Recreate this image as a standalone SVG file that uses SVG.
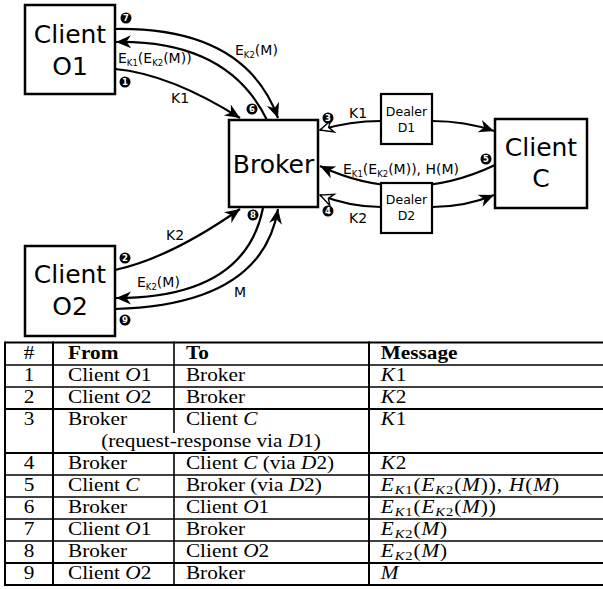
<svg xmlns="http://www.w3.org/2000/svg" width="603" height="589" viewBox="0 0 603 589">
<style>
.box{fill:#fff;stroke:#000;stroke-width:2.5}
.dbox{fill:#fff;stroke:#000;stroke-width:2.2}
.big{font-family:"DejaVu Sans",sans-serif;font-size:25px;text-anchor:middle;fill:#000}
.small{font-family:"DejaVu Sans",sans-serif;font-size:12.5px;text-anchor:middle;fill:#000}
.lbl{font-family:"DejaVu Sans",sans-serif;font-size:14px;fill:#000}
.sub{font-size:8.5px}
.edge{fill:none;stroke:#000;stroke-width:2.2}
.badge circle{fill:#000}
.badge text{font-family:"DejaVu Sans",sans-serif;font-size:8.5px;font-weight:bold;fill:#fff;text-anchor:middle}
.tl{stroke:#000;stroke-width:1.6}
.tt{font-family:"Liberation Serif",serif;font-size:19px;fill:#000}
.th{font-weight:bold}
.it{font-style:italic}
.mt{letter-spacing:0.8px}
.ms{font-size:13px}
</style>
<defs>
<marker id="ah" markerUnits="userSpaceOnUse" viewBox="-16 -8 17 16" refX="0" refY="0" markerWidth="17" markerHeight="16" orient="auto">
<path d="M0,0 L-15,-6.5 L-10.5,0 L-15,6.5 Z" fill="#000"/>
</marker>
<marker id="ao" markerUnits="userSpaceOnUse" viewBox="-16 -8 17 16" refX="0" refY="0" markerWidth="17" markerHeight="16" orient="auto">
<path d="M0,0 L-13,-6 L-9,0 L-13,6 Z" fill="#fff" stroke="#000" stroke-width="1.4" stroke-linejoin="miter"/>
</marker>
</defs>

<g id="connectors">
<path class="edge" d="M115,69 Q170,74 240,118" marker-end="url(#ah)"/>
<path class="edge" d="M115,29 Q245,27 278,118" marker-end="url(#ah)"/>
<path class="edge" d="M267,120 Q228,40 116,42" marker-end="url(#ah)"/>
<path class="edge" d="M115,270 Q170,258 240,209" marker-end="url(#ah)"/>
<path class="edge" d="M263,208 Q245,298 116,298" marker-end="url(#ah)"/>
<path class="edge" d="M115,309 Q262,305 278,209" marker-end="url(#ah)"/>
<path class="edge" d="M381,121 Q350,121 320,130" marker-end="url(#ao)"/>
<path class="edge" d="M432,121 Q465,121 494,131" marker-end="url(#ah)"/>
<path class="edge" d="M495,165 Q407,207 320,166" marker-end="url(#ah)"/>
<path class="edge" d="M381,207 Q350,207 320,195" marker-end="url(#ao)"/>
<path class="edge" d="M432,207 Q465,207 494,195" marker-end="url(#ah)"/>
</g>

<g id="client-o1"><rect class="box" x="25" y="5" width="90" height="89"/><text class="big" x="70" y="43">Client</text><text class="big" x="70" y="75">O1</text></g>
<g id="broker"><rect class="box" x="229" y="120" width="89" height="87"/><text class="big" x="273.5" y="173">Broker</text></g>
<g id="client-c"><rect class="box" x="495" y="119" width="92" height="89"/><text class="big" x="541" y="156">Client</text><text class="big" x="541" y="187">C</text></g>
<g id="client-o2"><rect class="box" x="25" y="246" width="90" height="90"/><text class="big" x="70" y="283">Client</text><text class="big" x="70" y="315">O2</text></g>
<g id="dealer-d1"><rect class="dbox" x="381" y="94" width="51" height="50"/><text class="small" x="406.5" y="116">Dealer</text><text class="small" x="406.5" y="132">D1</text></g>
<g id="dealer-d2"><rect class="dbox" x="381" y="183" width="51" height="50"/><text class="small" x="406.5" y="204">Dealer</text><text class="small" x="406.5" y="220">D2</text></g>

<g id="labels">
<text class="lbl" x="235" y="55">E<tspan class="sub" dy="3">K2</tspan><tspan dy="-3">(M)</tspan></text>
<text class="lbl" x="118" y="63">E<tspan class="sub" dy="3">K1</tspan><tspan dy="-3">(E</tspan><tspan class="sub" dy="3">K2</tspan><tspan dy="-3">(M))</tspan></text>
<text class="lbl" x="180" y="103" text-anchor="middle">K1</text>
<text class="lbl" x="358" y="118" text-anchor="middle">K1</text>
<text class="lbl" x="343" y="174">E<tspan class="sub" dy="3">K1</tspan><tspan dy="-3">(E</tspan><tspan class="sub" dy="3">K2</tspan><tspan dy="-3">(M)), H(M)</tspan></text>
<text class="lbl" x="358" y="223" text-anchor="middle">K2</text>
<text class="lbl" x="175" y="240" text-anchor="middle">K2</text>
<text class="lbl" x="137" y="287">E<tspan class="sub" dy="3">K2</tspan><tspan dy="-3">(M)</tspan></text>
<text class="lbl" x="240" y="297" text-anchor="middle">M</text>
</g>

<g id="badges">
<g class="badge"><circle cx="125" cy="82" r="5.5"/><text x="125" y="85">1</text></g>
<g class="badge"><circle cx="125" cy="258" r="5.5"/><text x="125" y="261">2</text></g>
<g class="badge"><circle cx="328" cy="118" r="5.5"/><text x="328" y="121">3</text></g>
<g class="badge"><circle cx="328" cy="211" r="5.5"/><text x="328" y="214">4</text></g>
<g class="badge"><circle cx="486" cy="159" r="5.5"/><text x="486" y="162">5</text></g>
<g class="badge"><circle cx="252" cy="109" r="5.5"/><text x="252" y="112">6</text></g>
<g class="badge"><circle cx="126" cy="18" r="5.5"/><text x="126" y="21">7</text></g>
<g class="badge"><circle cx="253" cy="215" r="5.5"/><text x="253" y="218">8</text></g>
<g class="badge"><circle cx="125" cy="320" r="5.5"/><text x="125" y="323">9</text></g>
</g>

<g id="table">
<g class="tl">
<line x1="5" y1="342.5" x2="603" y2="342.5" stroke-width="2"/>
<line x1="5" y1="365" x2="603" y2="365"/>
<line x1="5" y1="387" x2="603" y2="387"/>
<line x1="5" y1="409" x2="603" y2="409" stroke-width="2"/>
<line x1="5" y1="453" x2="603" y2="453" stroke-width="2"/>
<line x1="5" y1="475" x2="603" y2="475"/>
<line x1="5" y1="497" x2="603" y2="497"/>
<line x1="5" y1="519" x2="603" y2="519"/>
<line x1="5" y1="541" x2="603" y2="541"/>
<line x1="5" y1="563" x2="603" y2="563" stroke-width="2"/>
<line x1="5" y1="585" x2="603" y2="585" stroke-width="2"/>
<line x1="5" y1="341.5" x2="5" y2="586" stroke-width="2"/>
<line x1="53" y1="341.5" x2="53" y2="586" stroke-width="2"/>
<line x1="174" y1="341.5" x2="174" y2="433"/>
<line x1="174" y1="453" x2="174" y2="586"/>
<line x1="369" y1="341.5" x2="369" y2="586" stroke-width="2"/>
</g>
<g class="tt" transform="scale(1.12,1)">
<text x="25.9" y="359" text-anchor="middle">#</text>
<text x="60.7" y="359" class="th">From</text>
<text x="166" y="359" class="th">To</text>
<text x="340" y="359" class="th">Message</text>

<text x="25.9" y="381" text-anchor="middle">1</text>
<text x="60.7" y="381">Client <tspan class="it">O</tspan>1</text>
<text x="166" y="381">Broker</text>
<text x="340" y="381" class="mt"><tspan class="it">K</tspan>1</text>

<text x="25.9" y="403" text-anchor="middle">2</text>
<text x="60.7" y="403">Client <tspan class="it">O</tspan>2</text>
<text x="166" y="403">Broker</text>
<text x="340" y="403" class="mt"><tspan class="it">K</tspan>2</text>

<text x="25.9" y="425" text-anchor="middle">3</text>
<text x="60.7" y="425">Broker</text>
<text x="166" y="425">Client <tspan class="it">C</tspan></text>
<text x="340" y="425" class="mt"><tspan class="it">K</tspan>1</text>
<text x="188.4" y="447" text-anchor="middle">(request-response via <tspan class="it">D</tspan>1)</text>

<text x="25.9" y="469" text-anchor="middle">4</text>
<text x="60.7" y="469">Broker</text>
<text x="166" y="469">Client <tspan class="it">C</tspan> (via <tspan class="it">D</tspan>2)</text>
<text x="340" y="469" class="mt"><tspan class="it">K</tspan>2</text>

<text x="25.9" y="491" text-anchor="middle">5</text>
<text x="60.7" y="491">Client <tspan class="it">C</tspan></text>
<text x="166" y="491">Broker (via <tspan class="it">D</tspan>2)</text>
<text x="340" y="491" class="mt"><tspan class="it">E</tspan><tspan class="ms" dy="3"><tspan class="it">K</tspan>1</tspan><tspan dy="-3">(</tspan><tspan class="it">E</tspan><tspan class="ms" dy="3"><tspan class="it">K</tspan>2</tspan><tspan dy="-3">(</tspan><tspan class="it">M</tspan>)), <tspan class="it">H</tspan>(<tspan class="it">M</tspan>)</text>

<text x="25.9" y="513" text-anchor="middle">6</text>
<text x="60.7" y="513">Broker</text>
<text x="166" y="513">Client <tspan class="it">O</tspan>1</text>
<text x="340" y="513" class="mt"><tspan class="it">E</tspan><tspan class="ms" dy="3"><tspan class="it">K</tspan>1</tspan><tspan dy="-3">(</tspan><tspan class="it">E</tspan><tspan class="ms" dy="3"><tspan class="it">K</tspan>2</tspan><tspan dy="-3">(</tspan><tspan class="it">M</tspan>))</text>

<text x="25.9" y="535" text-anchor="middle">7</text>
<text x="60.7" y="535">Client <tspan class="it">O</tspan>1</text>
<text x="166" y="535">Broker</text>
<text x="340" y="535" class="mt"><tspan class="it">E</tspan><tspan class="ms" dy="3"><tspan class="it">K</tspan>2</tspan><tspan dy="-3">(</tspan><tspan class="it">M</tspan>)</text>

<text x="25.9" y="557" text-anchor="middle">8</text>
<text x="60.7" y="557">Broker</text>
<text x="166" y="557">Client <tspan class="it">O</tspan>2</text>
<text x="340" y="557" class="mt"><tspan class="it">E</tspan><tspan class="ms" dy="3"><tspan class="it">K</tspan>2</tspan><tspan dy="-3">(</tspan><tspan class="it">M</tspan>)</text>

<text x="25.9" y="579" text-anchor="middle">9</text>
<text x="60.7" y="579">Client <tspan class="it">O</tspan>2</text>
<text x="166" y="579">Broker</text>
<text x="340" y="579" class="it">M</text>
</g>
</g>
</svg>
